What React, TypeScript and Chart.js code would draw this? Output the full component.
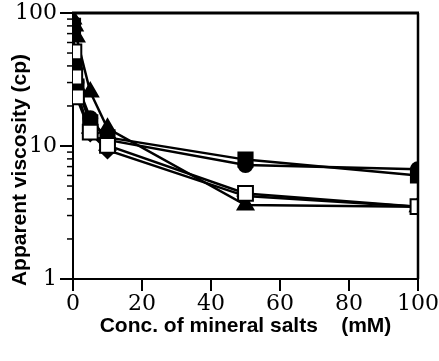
import React, { useEffect, useRef } from 'react';
import { Chart, registerables } from 'chart.js';

Chart.register(...registerables);

// Data (x: mM, y: cp)
const openSquareX = [0.25, 0.5, 1, 5, 10, 50, 100];
const openSquareY = [51, 33, 23.4, 12.7, 10.1, 4.4, 3.5];
const seriesX = [0, 0.5, 1, 5, 10, 50, 100];
const circleY = [84, 42, 30, 16.2, 11.1, 7.2, 6.7];
const squareY = [80, 40, 28, 15.1, 11.6, 7.9, 6.0];
const triangleY = [90, 80, 66, 25.5, 13.6, 3.6, 3.5];
const diamondY = [76, 38, 26, 12.5, 9.3, 4.2, 3.5];

const xTicks = [0, 20, 40, 60, 80, 100];
const yTicks = [1, 10, 100];
const yMinorMultipliers = [2, 3, 4, 5, 6, 7, 8, 9];

const xTitle = 'Conc. of mineral salts    (mM)';
const yTitle = 'Apparent viscosity (cp)';

const toPoints = (xs: number[], ys: number[]) => xs.map((x, i) => ({ x, y: ys[i] }));

const framePlugin = {
  id: 'frameAndExtras',
  afterDraw(chart: any) {
    const { ctx, chartArea } = chart;
    const { left, right, top, bottom } = chartArea;
    const yScale = chart.scales.y;
    ctx.save();
    ctx.strokeStyle = '#000';
    // top & right frame
    ctx.lineWidth = 3;
    ctx.beginPath();
    ctx.moveTo(left - 1, top);
    ctx.lineTo(right + 1, top);
    ctx.stroke();
    ctx.lineWidth = 2.5;
    ctx.beginPath();
    ctx.moveTo(right, top);
    ctx.lineTo(right, bottom);
    ctx.stroke();
    // minor ticks on log axis (outside)
    ctx.lineWidth = 1.5;
    for (let d = 0; d < yTicks.length - 1; d++) {
      for (const m of yMinorMultipliers) {
        const v = yTicks[d] * m;
        const py = yScale.getPixelForValue(v);
        ctx.beginPath();
        ctx.moveTo(left - 6, py);
        ctx.lineTo(left, py);
        ctx.stroke();
      }
    }
    // y title
    ctx.fillStyle = '#000';
    ctx.font = 'bold 21px "Liberation Sans", Arial, sans-serif';
    ctx.textAlign = 'center';
    ctx.textBaseline = 'middle';
    ctx.translate(20, 170);
    ctx.rotate(-Math.PI / 2);
    ctx.fillText(yTitle, 0, 0);
    ctx.restore();
  },
};

export default function App() {
  const ref = useRef<HTMLCanvasElement | null>(null);
  useEffect(() => {
    if (!ref.current) return;
    const common = {
      borderColor: '#000',
      borderWidth: 2.5,
      pointBorderColor: '#000',
      pointBorderWidth: 2,
      showLine: true,
      tension: 0,
      fill: false,
    };
    const chart = new Chart(ref.current, {
      type: 'line',
      data: {
        datasets: [
          {
            ...common,
            label: 'open square',
            data: toPoints(openSquareX, openSquareY),
            pointStyle: 'rect',
            pointRadius: 10.5,
            pointBackgroundColor: '#fff',
          },
          {
            ...common,
            label: 'circle',
            data: toPoints(seriesX, circleY),
            pointStyle: 'circle',
            pointRadius: 7,
            pointBackgroundColor: '#000',
          },
          {
            ...common,
            label: 'square',
            data: toPoints(seriesX, squareY),
            pointStyle: 'rect',
            pointRadius: 10,
            pointBackgroundColor: '#000',
          },
          {
            ...common,
            label: 'triangle',
            data: toPoints(seriesX, triangleY),
            pointStyle: 'triangle',
            pointRadius: 9,
            pointBackgroundColor: '#000',
          },
          {
            ...common,
            label: 'diamond',
            data: toPoints(seriesX, diamondY),
            pointStyle: 'rectRot',
            pointRadius: 8,
            pointBackgroundColor: '#000',
          },
        ],
      },
      options: {
        animation: false,
        responsive: false,
        maintainAspectRatio: false,
        layout: { padding: { top: 13, right: 21, left: 0, bottom: 0 } },
        plugins: { legend: { display: false }, tooltip: { enabled: false } },
        scales: {
          x: {
            type: 'linear',
            min: 0,
            max: 100,
            afterBuildTicks: (axis: any) => {
              axis.ticks = xTicks.map((v) => ({ value: v }));
            },
            afterFit: (axis: any) => {
              axis.height = 82;
              axis.paddingLeft = 0;
              axis.paddingRight = 0;
            },
            ticks: {
              color: '#000',
              padding: 0,
              maxRotation: 0,
              font: { family: '"DejaVu Serif", serif', size: 22 },
              callback: (v: any) => String(v),
            },
            grid: {
              drawOnChartArea: false,
              drawTicks: true,
              tickLength: 12,
              color: '#000',
              lineWidth: 2,
            },
            border: { display: true, color: '#000', width: 2 },
            title: {
              display: true,
              text: xTitle,
              color: '#000',
              font: { family: '"Liberation Sans", Arial, sans-serif', size: 21, weight: 'bold' },
              padding: { top: 0, bottom: 22 },
            },
          },
          y: {
            type: 'logarithmic',
            min: 1,
            max: 100,
            afterBuildTicks: (axis: any) => {
              axis.ticks = yTicks.map((v) => ({ value: v, major: true }));
            },
            afterFit: (axis: any) => {
              axis.width = 73;
              axis.paddingTop = 0;
              axis.paddingBottom = 0;
            },
            ticks: {
              color: '#000',
              padding: 3,
              font: { family: '"DejaVu Serif", serif', size: 22 },
              callback: (v: any) => String(v),
            },
            grid: {
              drawOnChartArea: false,
              drawTicks: true,
              tickLength: 13,
              color: '#000',
              lineWidth: 2,
            },
            border: { display: true, color: '#000', width: 2 },
          },
        },
      },
      plugins: [framePlugin],
    } as any);
    return () => chart.destroy();
  }, []);
  return (
    <div style={{ position: 'fixed', left: 0, top: 0, width: 439, height: 361, background: '#fff' }}>
      <canvas ref={ref} width={439} height={361} style={{ width: 439, height: 361 }} />
    </div>
  );
}
